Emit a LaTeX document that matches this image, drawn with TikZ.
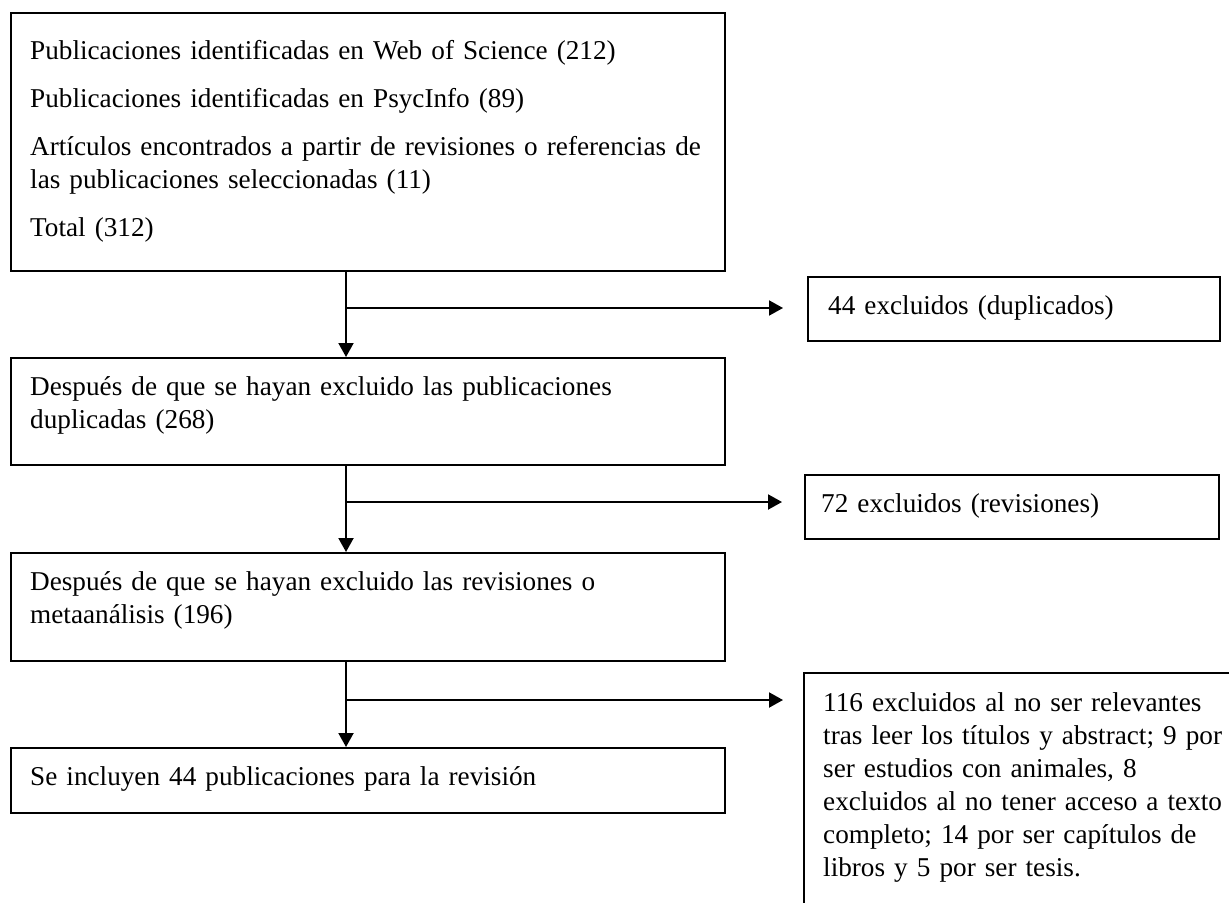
\documentclass[tikz,border=0pt]{standalone}
\usepackage{fontspec}
\setmainfont{Liberation Serif}
\usetikzlibrary{arrows.meta}

\begin{document}
\begin{tikzpicture}[
  x=0.5pt, y=-0.5pt,
  every node/.style={font=\fontsize{13.6}{16.5}\selectfont, align=left},
  stage/.style={draw, line width=1.2pt, anchor=north west,
                inner xsep=9.5pt, inner ysep=0pt,
                text width=338pt, text height=18.5pt},
  excl/.style={stage, text width=186pt, inner xsep=10pt},
  arrow/.style={-{Triangle[length=7pt, width=7.5pt]}, line width=1pt},
]
\clip (0,0) rectangle (1229,903);

% --- Left column: the screening stages --------------------------------
\node[stage, text height=23pt, text depth=106pt] (pub) at (10,12)
  {Publicaciones identificadas en Web of Science (212)\\[7.5pt]
   Publicaciones identificadas en PsycInfo (89)\\[7.5pt]
   \mbox{Artículos encontrados a partir de revisiones o referencias de}\\
   las publicaciones seleccionadas (11)\\[7.5pt]
   Total (312)};
\node[stage, text depth=35pt] (dup) at (10,357)
  {Después de que se hayan excluido las publicaciones\\
   duplicadas (268)};
\node[stage, text depth=35.5pt] (rev) at (10,552)
  {Después de que se hayan excluido las revisiones o\\
   metaanálisis (196)};
\node[stage, text depth=14pt] (inc) at (10,747)
  {Se incluyen 44 publicaciones para la revisión};

% --- Right column: what is left out at each step ----------------------
\node[excl, text depth=13.5pt] (ex1) at (807,276)
  {44 excluidos (duplicados)};
\node[excl, text depth=13.5pt, inner xsep=8pt, text width=191pt] (ex2) at (804,474)
  {72 excluidos (revisiones)};
\node[stage, text width=240pt, text height=19pt, text depth=100pt] (ex3) at (803,672)
  {116 excluidos al no ser relevantes\\
   \mbox{tras leer los títulos y abstract; 9 por}\\
   ser estudios con animales, 8\\
   \mbox{excluidos al no tener acceso a texto}\\
   completo; 14 por ser capítulos de\\
   libros y 5 por ser tesis.};

% Branch points on the main flow line.
\coordinate (j1) at (346,308);
\coordinate (j2) at (346,502);
\coordinate (j3) at (346,700);

\draw[arrow] (pub.south -| j1) -- (dup.north -| j1);
\draw[arrow] (dup.south -| j2) -- (rev.north -| j2);
\draw[arrow] (rev.south -| j3) -- (inc.north -| j3);

\draw[arrow, shorten >=12pt] (j1) -- (j1 -| ex1.west);
\draw[arrow, shorten >=11pt] (j2) -- (j2 -| ex2.west);
\draw[arrow, shorten >=10pt] (j3) -- (j3 -| ex3.west);
\end{tikzpicture}
\end{document}
